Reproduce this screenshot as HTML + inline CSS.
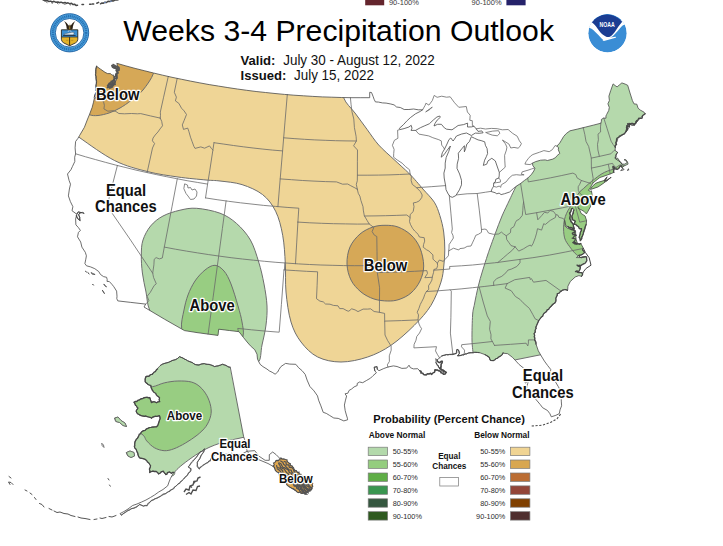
<!DOCTYPE html>
<html><head><meta charset="utf-8"><title>Weeks 3-4 Precipitation Outlook</title>
<style>
html,body{margin:0;padding:0;background:#fff;}
body{width:723px;height:546px;overflow:hidden;font-family:"Liberation Sans",sans-serif;}
svg{display:block;font-family:"Liberation Sans",sans-serif;}
.ln{fill:none;stroke:#696969;stroke-width:0.8;stroke-linejoin:round;stroke-linecap:round}
.ct{stroke:#6e6e6e;stroke-width:1.0;stroke-linejoin:round}
.lab{font-weight:bold;fill:#111;stroke:#fff;stroke-width:2.3px;paint-order:stroke fill;stroke-linejoin:round;text-anchor:middle}
.lg{font-size:7.3px;fill:#2b2b2b}
.sw{stroke:#7a7a7a;stroke-width:.7}
</style></head><body>
<svg width="723" height="546" viewBox="0 0 723 546">
<defs>
<clipPath id="us"><path d="M96.8 66.5L100.6 69.2L105.0 72.3L107.6 73.6L110.5 73.6L112.0 75.2L113.5 74.9L114.4 78.9L113.9 83.1L111.7 86.9L114.6 83.4L116.9 78.8L117.1 74.5L117.2 70.8L117.9 67.3L116.8 63.3L116.8 63.3L125.9 65.9L135.1 68.4L144.3 70.7L153.5 73.0L162.7 75.2L172.0 77.3L181.2 79.2L190.5 81.1L199.9 82.9L209.2 84.6L218.6 86.1L227.9 87.6L237.3 89.0L246.7 90.3L256.1 91.5L265.6 92.5L275.0 93.5L284.4 94.4L293.9 95.2L303.4 95.8L312.8 96.4L322.3 96.9L331.8 97.2L341.3 97.5L350.8 97.7L360.2 97.7L369.7 97.7L369.7 92.3L371.5 92.5L373.0 96.2L374.1 99.3L375.4 101.9L378.6 102.1L382.4 102.9L386.1 103.1L390.8 104.0L394.1 104.9L396.6 107.0L400.3 107.5L404.2 109.5L408.9 109.5L413.6 109.0L418.3 109.8L422.6 109.8L420.3 111.4L415.5 113.8L410.3 117.7L407.1 120.7L403.3 124.8L399.3 128.4L400.3 129.5L404.1 128.6L408.9 127.0L411.2 125.3L412.0 128.2L411.0 130.4L415.6 130.4L420.4 127.7L424.2 126.0L429.3 123.8L433.3 120.0L436.9 117.0L439.7 116.0L440.3 117.3L437.2 120.1L435.0 123.4L434.0 126.0L437.5 124.3L441.4 124.3L444.4 127.9L446.6 129.2L452.0 129.8L455.2 127.6L458.1 125.5L463.6 124.6L467.6 123.1L467.5 127.0L471.6 126.9L473.9 126.2L476.2 128.8L478.0 131.4L481.8 130.9L483.1 132.8L479.2 133.3L475.3 133.1L471.3 135.5L466.5 133.0L461.7 134.0L456.5 136.0L454.0 139.8L453.1 141.0L450.8 138.0L449.0 139.5L447.0 144.0L444.5 149.1L442.3 152.8L441.2 157.2L444.0 154.8L447.1 150.3L450.4 146.0L448.7 151.6L446.2 157.4L445.2 163.1L445.2 168.1L443.9 173.1L444.2 178.0L445.6 185.6L446.0 189.7L448.2 194.0L450.2 196.6L452.4 197.3L455.8 195.6L459.4 189.9L461.5 184.8L461.5 180.3L459.6 174.0L457.0 168.4L457.2 164.1L458.6 158.3L458.3 153.2L461.8 148.8L464.4 145.7L464.3 149.3L464.4 151.8L465.7 148.4L466.9 144.0L469.4 141.6L471.3 136.7L474.4 138.2L478.1 139.9L481.1 140.6L484.7 141.8L485.4 145.3L487.1 148.6L487.6 153.5L486.4 156.5L484.6 160.2L483.3 165.4L486.7 164.2L488.0 160.9L491.8 158.3L495.3 160.9L497.4 167.0L499.3 172.4L499.2 175.9L498.8 178.1L495.8 179.2L495.2 182.1L493.8 183.0L493.4 186.6L492.0 188.9L491.1 191.5L495.1 192.7L496.8 193.8L499.1 193.1L501.1 194.6L504.6 193.7L509.6 192.0L513.3 188.6L516.6 186.0L520.6 183.5L524.5 180.4L527.7 178.2L531.5 174.3L533.8 171.0L534.9 168.3L532.9 165.8L532.4 163.2L535.7 161.6L540.6 160.2L545.2 159.9L547.4 160.5L552.8 159.1L555.5 157.6L557.2 155.5L559.8 153.4L558.3 149.8L558.6 147.6L556.8 146.2L559.7 143.1L561.2 140.6L563.6 136.5L566.3 133.5L570.0 130.8L570.0 130.8L577.8 129.0L585.5 127.1L593.2 125.2L600.9 123.2L601.4 121.2L601.4 119.4L603.6 118.1L606.0 118.2L605.9 116.0L606.7 114.4L608.7 110.6L609.3 107.4L607.9 103.8L609.4 100.5L608.9 96.2L610.7 90.6L613.1 83.9L615.2 85.6L617.1 86.9L619.5 84.8L621.9 82.9L625.2 84.1L627.7 85.3L630.0 93.0L632.4 100.5L634.0 103.9L636.8 104.2L638.1 108.2L640.2 110.0L644.1 112.2L644.8 113.3L641.5 117.1L637.7 120.8L636.2 122.7L634.2 124.7L631.3 123.4L629.3 125.5L628.2 123.6L627.3 127.5L627.6 130.4L624.3 133.5L621.3 135.8L617.8 138.2L617.4 140.5L616.4 142.9L615.3 147.3L615.1 150.5L617.7 152.3L615.9 154.7L615.1 157.8L618.0 158.4L620.1 162.2L622.2 164.2L624.8 164.1L627.1 162.7L625.8 160.6L624.0 159.7L625.7 159.5L627.4 161.6L628.1 164.1L624.7 165.7L621.8 167.6L620.9 165.3L618.5 168.4L617.2 169.5L614.8 168.7L613.3 166.2L613.5 169.7L613.9 172.4L610.2 173.9L607.8 174.8L603.9 176.2L599.9 177.5L597.2 179.6L593.1 182.8L591.6 185.3L590.3 187.7L588.4 190.3L590.3 191.3L591.4 190.8L592.1 194.5L592.2 197.3L592.1 201.6L590.4 206.8L588.1 211.1L586.4 213.9L583.9 211.3L580.2 209.3L577.9 207.7L579.8 210.1L581.1 213.4L585.1 216.0L586.6 220.7L586.2 224.3L585.0 228.8L583.0 235.0L580.6 240.9L579.5 237.1L580.3 232.7L581.7 228.9L579.2 228.7L577.6 225.5L574.0 224.1L575.0 221.1L572.3 219.9L571.9 216.7L572.8 213.0L574.0 209.9L572.5 208.1L570.8 211.3L570.2 213.6L571.0 216.6L571.1 220.5L573.2 224.6L574.5 229.1L568.6 227.4L565.9 225.8L564.6 220.4L565.1 226.2L567.7 228.3L575.6 231.2L575.7 235.1L576.1 239.3L577.4 243.3L573.4 242.7L576.5 244.2L580.9 243.5L581.4 244.5L583.4 248.4L582.4 249.3L584.2 252.5L583.1 254.1L578.3 255.8L576.4 257.6L579.8 257.6L583.6 256.6L586.5 256.9L586.7 260.4L585.1 263.6L580.8 265.2L576.9 265.4L580.0 266.8L579.9 269.0L578.6 271.4L575.2 271.4L578.9 272.4L582.4 272.7L582.6 274.8L581.6 276.4L578.9 275.6L575.2 277.0L570.3 281.5L567.9 286.2L567.7 290.0L564.2 289.5L561.0 291.1L557.6 293.8L555.9 298.4L555.5 301.3L553.4 304.5L550.4 307.1L548.4 309.3L544.3 313.1L542.4 316.2L540.2 318.7L538.7 320.6L536.6 325.6L535.3 330.1L534.5 333.7L534.8 339.9L536.0 344.1L538.3 350.8L541.3 356.0L544.4 361.1L547.7 365.6L550.7 369.4L550.4 373.0L553.0 377.5L555.6 382.1L558.3 386.6L560.1 389.9L561.1 395.4L561.3 401.1L561.6 405.8L560.0 409.9L559.3 413.6L555.9 415.3L551.3 416.8L549.9 413.7L547.5 410.5L542.6 407.7L540.2 404.5L536.4 400.0L533.4 396.9L531.6 393.6L529.3 390.4L526.6 387.2L527.7 383.5L528.5 380.6L525.5 383.1L523.7 379.8L524.5 374.1L524.1 368.5L519.1 364.5L516.0 361.1L512.4 357.3L507.7 353.7L503.4 353.2L501.3 355.9L496.2 358.7L493.4 360.8L490.3 360.5L489.4 357.4L485.2 354.7L479.2 352.5L474.3 352.2L468.4 353.2L463.5 354.6L460.8 355.3L457.6 355.8L459.4 353.3L458.2 349.9L456.7 349.6L456.2 353.6L452.9 354.6L449.3 354.6L446.3 354.5L441.6 356.1L439.6 357.9L437.1 359.9L435.8 358.6L435.9 360.7L439.0 362.3L442.6 361.6L441.1 365.3L440.0 368.1L443.2 370.0L445.8 371.9L445.3 374.1L442.2 373.6L440.8 370.9L437.4 370.4L434.9 369.9L434.2 372.0L431.9 373.8L427.6 373.8L424.6 374.7L421.5 372.7L419.6 370.7L417.7 368.7L413.4 368.9L410.4 367.7L409.0 365.2L406.7 368.1L401.9 368.4L397.0 366.5L393.4 365.9L388.0 367.0L383.8 368.5L379.0 370.7L377.2 369.3L377.1 366.5L374.1 367.3L374.8 370.7L376.4 372.8L373.0 375.7L370.6 378.1L366.3 380.6L362.7 382.7L359.6 382.0L357.2 383.4L357.2 385.5L354.1 386.9L351.6 389.0L349.1 390.4L347.9 393.2L345.0 393.8L346.6 396.0L345.3 400.9L344.4 405.1L345.2 410.7L346.4 415.0L347.4 418.2L347.6 419.8L343.8 420.9L338.2 418.4L333.8 418.0L329.4 415.3L326.3 413.4L323.2 412.3L320.9 405.9L318.6 400.2L317.5 395.9L314.0 390.9L309.9 386.5L307.1 380.1L305.2 374.4L302.1 370.7L298.6 367.7L295.8 364.3L289.8 364.1L285.6 363.4L280.9 366.6L279.1 369.3L277.7 372.0L275.1 374.2L272.2 372.3L269.3 370.9L267.0 369.1L262.9 366.6L260.1 364.3L257.5 359.1L257.0 354.2L254.8 349.8L250.4 345.8L247.1 342.0L243.4 337.4L239.3 332.1L238.4 331.6L229.4 330.5L218.7 329.2L218.0 335.4L208.1 334.1L197.0 332.6L184.5 330.6L164.5 319.2L144.0 307.0L145.7 304.1L130.8 302.4L117.8 300.9L116.8 298.7L117.0 296.2L116.6 291.1L113.8 286.7L111.9 284.3L109.3 281.5L107.0 281.4L107.2 279.6L106.6 277.3L103.5 276.6L100.4 274.4L98.8 271.6L94.8 268.7L90.6 266.9L86.5 265.8L84.9 263.6L85.8 259.2L86.4 255.8L85.3 252.3L81.9 247.1L80.7 242.0L77.5 236.8L78.4 232.5L80.4 230.4L78.5 227.7L75.9 224.8L75.6 219.0L76.6 215.2L77.2 218.0L80.2 220.7L79.5 217.2L78.7 214.1L80.8 212.5L78.2 211.8L76.9 214.3L72.0 210.7L72.9 206.7L70.4 201.6L68.4 195.9L69.4 189.0L70.5 184.2L69.1 180.5L67.5 174.0L70.9 169.8L72.4 166.6L74.8 161.5L74.7 157.2L75.6 153.8L75.1 147.8L75.6 141.5L77.9 138.4L79.7 135.3L84.4 127.3L87.6 119.0L89.6 114.2L92.1 107.6L93.5 102.2L94.4 98.0L98.8 98.6L94.4 97.0L95.2 93.8L96.9 91.4L95.9 90.4L96.1 87.5L96.3 81.7L95.6 73.3L95.8 69.5L96.8 66.5Z"/><path d="M590.5 189.1L592.5 186.1L595.9 183.2L598.9 182.1L603.9 180.6L606.8 177.1L605.5 180.4L604.1 181.2L606.7 180.9L611.0 177.3L605.3 181.9L600.7 185.2L597.9 187.0L591.4 189.2L590.5 189.1Z"/></clipPath>
<clipPath id="ak"><path d="M230.0 367.4L226.0 365.5L222.3 364.5L218.0 366.0L214.6 366.5L209.0 364.5L203.0 363.6L199.0 364.8L195.2 364.5L191.0 362.0L187.5 360.7L183.0 358.0L179.7 356.8L177.5 358.5L175.8 359.7L172.0 360.5L168.1 362.6L164.0 363.5L160.3 365.5L157.5 368.5L155.5 371.3L152.0 374.0L148.7 376.1L146.0 377.0L144.9 379.0L145.8 382.9L148.0 384.5L150.7 385.8L152.0 389.0L153.6 391.6L155.5 393.5L157.4 395.5L159.5 398.0L159.4 401.3L156.5 402.7L154.0 401.5L151.6 402.3L150.5 399.5L149.7 397.4L146.0 397.5L142.9 398.4L138.0 400.5L134.2 402.3L135.5 405.5L138.1 408.1L136.5 410.0L136.1 412.0L139.0 414.5L142.0 415.8L147.0 416.5L151.6 417.8L155.5 416.5L159.4 415.8L160.0 418.5L159.4 420.7L158.5 424.0L156.5 426.5L152.0 427.0L147.8 428.4L145.0 430.5L142.0 431.3L139.5 434.5L137.1 438.1L135.0 442.0L134.2 446.8L135.8 449.0L137.0 451.6L138.0 455.0L139.8 457.9L143.0 458.5L147.0 460.6L149.0 463.5L150.6 466.0L149.5 469.0L149.7 472.3L153.0 471.0L156.0 471.4L158.7 474.0L161.0 472.0L163.2 471.4L165.9 475.0L167.5 473.0L169.5 472.3L171.5 473.2L174.0 472.3L172.0 475.5L170.4 478.6L169.0 482.0L167.7 485.8L163.0 489.5L158.7 492.0L154.5 495.0L150.6 497.4L146.0 500.0L141.6 502.0L137.0 504.0L132.6 505.5L128.0 509.0L124.0 511.5L120.0 513.6L121.0 515.0L126.0 512.0L130.8 509.0L135.0 507.5L139.8 504.6L143.5 506.0L147.0 505.5L151.0 501.0L156.0 498.3L160.0 496.5L165.0 493.8L168.5 491.5L172.2 489.4L176.0 486.0L179.4 483.0L183.5 479.0L187.4 475.0L190.0 471.5L191.0 468.7L188.3 466.9L190.5 464.0L192.8 461.5L196.0 457.5L199.0 453.4L202.0 451.0L204.5 448.9L203.5 452.0L201.8 454.3L199.5 458.5L197.3 462.4L197.5 466.0L199.0 468.7L202.5 466.0L206.3 463.3L210.0 460.6L213.0 456.5L216.0 452.5L219.0 455.0L222.0 453.0L226.0 454.5L230.0 453.5L236.0 455.0L241.0 454.5L247.1 451.3L254.7 450.6L258.9 456.1L265.1 460.3L269.3 460.3L269.3 454.7L272.7 452.0L276.2 454.7L280.3 458.9L286.5 460.3L294.2 469.3L302.5 476.2L312.1 483.1L312.1 489.3L302.5 493.5L294.2 490.0L285.9 483.1L278.2 472.7L273.4 466.5L268.0 463.5L262.0 461.0L256.0 458.5L251.0 455.5L247.1 451.3L245.7 443.0L243.7 436.8Z"/></clipPath>
</defs>
<rect width="723" height="546" fill="#fff"/>

<rect x="365.200" y="-1" width="19" height="6.300" fill="#64252d"/>
<rect x="506.400" y="-1" width="19.200" height="6.300" fill="#25226a"/>
<text x="388.900" y="4.600" font-size="7.500" fill="#3a3a3a">90-100%</text>
<text x="501.600" y="4.600" font-size="7.500" fill="#3a3a3a" text-anchor="end">90-100%</text>
<path d="M43 -.2L45 .9L47 .5L49 1.500L50.500 1.100L52.500 2L54 1.300L56 2.300L58 1.900L59.500 2.700L61 2.100L63 3L65 2.500L66.500 3.400L68 2.800L70 3.800L71.500 3.300L73 4.600L74.500 4.200L76 5.400L77.500 5.200" fill="none" stroke="#484848" stroke-width="1.500" stroke-linecap="round" stroke-linejoin="round"/>
<path d="M46 1.800l1.500 1M51 2.600l2 .8M57 3.100l1.500 .9M63.500 3.800l2 .7M69.500 4.600l1.500 .5" fill="none" stroke="#6a6a6a" stroke-width=".9"/>
<path d="M82 4.600h1.500M89.600 4.300h1.400M92.300 3.900h1.400M96.800 3.200l1.800-.8M100.500 3.800l1.500-.9l1.500 .3l1.500-1l1.500 .3l1.500-1.200l2 .3l1.500-.9l2 .2l1.500-.9l2 .1l1.500-.6" fill="none" stroke="#484848" stroke-width="1.500" stroke-linecap="round" stroke-linejoin="round"/>
<path d="M104 2.700l2-.5M110 1.400l2-.4" stroke="#6c8fc8" stroke-width=".9" fill="none"/>

<!-- CONUS fills -->
<g clip-path="url(#us)">
<path d="M60.0 30.0C85.0 20.8 152.7 51.7 200.0 60.0C247.3 68.3 319.8 73.7 343.8 80.0C367.8 86.3 341.9 92.5 343.8 98.0C345.7 103.5 351.1 107.8 355.0 113.0C358.9 118.2 363.1 124.0 367.0 129.3C370.9 134.6 374.2 140.0 378.7 145.0C383.2 150.0 389.0 154.8 394.0 159.5C399.0 164.2 405.1 169.5 408.8 173.2C412.6 176.9 414.0 178.7 416.5 181.5C419.0 184.3 420.8 186.6 423.8 190.0C426.8 193.4 431.6 198.0 434.3 202.2C437.0 206.4 438.2 210.4 439.8 215.4C441.4 220.4 442.9 226.2 443.7 232.0C444.5 237.8 444.8 244.3 444.8 250.0C444.8 255.7 444.4 260.7 443.8 266.0C443.2 271.3 443.1 275.4 441.0 282.0C438.9 288.6 435.4 298.1 431.0 305.3C426.6 312.5 421.0 318.6 414.3 325.3C407.6 332.0 398.8 340.0 391.0 345.3C383.2 350.6 376.0 354.2 367.7 357.0C359.4 359.8 349.3 362.0 341.0 362.0C332.7 362.0 324.4 360.3 317.7 357.0C311.0 353.7 305.4 347.8 301.0 342.0C296.6 336.2 293.5 330.3 291.0 322.0C288.5 313.7 286.9 301.7 286.0 292.0C285.1 282.3 285.9 273.1 285.3 263.7C284.8 254.2 284.3 244.1 282.7 235.3C281.1 226.6 279.0 218.0 275.6 211.2C272.2 204.4 268.2 199.0 262.6 194.6C257.0 190.2 249.1 186.9 242.0 184.6C234.9 182.3 226.0 181.8 220.0 181.0C214.0 180.2 213.0 180.7 206.0 180.0C199.0 179.3 187.7 178.4 178.0 177.0C168.3 175.6 158.6 174.4 148.0 171.7C137.4 169.0 126.2 166.4 114.7 160.6C103.2 154.8 89.5 144.6 78.7 137.0C67.9 129.4 53.1 132.8 50.0 115.0C46.9 97.2 35.0 39.2 60.0 30.0Z" fill="#EFD596" class="ct"/>
<path d="M80.0 50.0C92.2 42.0 141.2 56.1 153.4 60.0C165.6 63.9 155.1 68.5 153.4 73.5C151.7 78.5 146.7 85.5 143.0 90.0C139.3 94.5 134.8 97.5 131.0 100.5C127.2 103.5 123.7 105.9 120.0 108.0C116.3 110.1 112.7 111.8 109.0 113.0C105.3 114.2 101.3 115.2 98.0 115.5C94.7 115.8 92.0 115.8 89.0 114.5C86.0 113.2 81.5 118.8 80.0 108.0C78.5 97.2 67.8 58.0 80.0 50.0Z" fill="#D6A857" class="ct"/>
<path d="M347.0 264.0C346.8 258.5 347.8 252.0 350.0 247.0C352.2 242.0 356.2 237.3 360.0 234.0C363.8 230.7 368.8 228.4 373.0 227.0C377.2 225.6 380.8 225.3 385.0 225.3C389.2 225.3 393.7 225.4 398.0 227.0C402.3 228.6 407.3 231.5 411.0 235.0C414.7 238.5 417.9 242.8 420.0 248.0C422.1 253.2 423.7 260.5 423.7 266.0C423.7 271.5 422.1 276.5 420.0 281.0C417.9 285.5 414.5 289.9 411.0 293.0C407.5 296.1 402.9 298.2 399.0 299.5C395.1 300.8 391.9 301.1 387.7 301.0C383.5 300.9 378.4 300.5 374.0 299.0C369.6 297.5 364.8 295.2 361.0 292.0C357.2 288.8 353.3 284.7 351.0 280.0C348.7 275.3 347.2 269.5 347.0 264.0Z" fill="#D6A857" class="ct"/>
<path d="M196.7 208.3C190.0 207.8 185.6 208.9 180.0 210.2C174.4 211.5 167.9 213.4 163.0 216.0C158.1 218.6 153.9 222.0 150.6 226.0C147.3 230.0 144.6 235.2 143.0 240.0C141.4 244.8 141.4 249.5 141.3 255.0C141.2 260.5 141.6 266.8 142.4 273.0C143.2 279.2 144.7 285.7 146.0 292.0C147.3 298.3 146.8 303.8 150.0 311.0C153.2 318.2 156.7 328.5 165.0 335.0C173.3 341.5 187.5 347.5 200.0 350.0C212.5 352.5 230.4 348.0 240.0 350.0C249.6 352.0 254.0 362.8 257.7 362.0C261.4 361.2 260.6 351.2 262.0 345.0C263.4 338.8 265.2 331.5 266.0 325.0C266.8 318.5 267.3 312.8 267.0 306.0C266.7 299.2 265.4 291.3 264.0 284.0C262.6 276.7 261.0 269.3 258.7 262.0C256.4 254.7 254.1 246.4 250.4 240.0C246.7 233.6 241.7 228.0 236.6 223.5C231.5 219.0 226.7 215.7 220.0 213.2C213.3 210.7 203.4 208.8 196.7 208.3Z" fill="#B5D9AC" class="ct"/>
<path d="M215.0 265.3C211.8 265.1 208.3 267.4 205.0 270.0C201.7 272.6 197.8 276.8 195.0 281.0C192.2 285.2 189.8 290.2 188.0 295.0C186.2 299.8 185.1 304.4 184.0 310.0C182.9 315.6 180.7 322.9 181.7 328.7C182.7 334.5 181.1 342.3 190.0 345.0C198.9 347.7 226.2 346.5 235.0 345.0C243.8 343.5 241.8 339.8 243.0 336.0C244.2 332.2 242.8 327.0 242.0 322.0C241.2 317.0 239.8 312.3 238.0 306.0C236.2 299.7 233.3 289.8 231.0 284.0C228.7 278.2 226.7 274.1 224.0 271.0C221.3 267.9 218.2 265.5 215.0 265.3Z" fill="#98CD82" class="ct"/>
<path d="M530.0 166.0C527.9 169.1 520.1 180.2 517.3 184.6C514.5 189.0 514.5 189.6 513.2 192.2C511.9 194.8 511.4 196.0 509.5 200.0C507.6 204.0 504.4 210.5 502.0 216.0C499.6 221.5 497.4 227.9 495.4 233.2C493.4 238.5 491.3 244.4 490.0 248.0C488.7 251.6 488.9 251.2 487.6 255.0C486.4 258.8 484.1 265.8 482.5 271.0C480.9 276.2 479.5 281.0 478.2 286.5C476.9 292.0 475.4 299.2 474.5 304.0C473.6 308.8 473.0 309.0 472.6 315.0C472.2 321.0 471.9 333.2 472.0 340.0C472.1 346.8 473.2 353.3 473.5 356.0L500 364L515.6 359.8L540.5 354.8L600 343L700 250L700 40L545 40L540 140Z" fill="#B5D9AC" class="ct"/>
<path d="M590.5 189.1L592.5 186.1L595.9 183.2L598.9 182.1L603.9 180.6L606.8 177.1L605.5 180.4L604.1 181.2L606.7 180.9L611.0 177.3L605.3 181.9L600.7 185.2L597.9 187.0L591.4 189.2L590.5 189.1Z" fill="#98CD82"/>
<path d="M622.0 165.0C619.3 164.2 617.5 166.8 616.0 167.5C614.5 168.2 614.5 168.7 613.1 169.3C611.7 169.9 609.6 170.2 607.6 171.0C605.6 171.8 603.2 172.9 601.0 174.3C598.8 175.7 596.3 177.7 594.3 179.3C592.3 180.9 590.6 182.1 588.8 183.7C587.0 185.3 585.0 187.1 583.3 188.7C581.6 190.2 580.5 190.7 578.8 193.0C577.1 195.3 575.1 199.2 573.0 202.7C570.9 206.1 567.9 210.0 566.4 213.7C564.9 217.4 564.0 220.7 563.7 224.7C563.4 228.7 563.6 234.2 564.6 237.9C565.6 241.6 567.8 243.9 569.7 246.7C571.7 249.4 574.1 252.7 576.3 254.4C578.5 256.1 579.0 257.4 583.0 257.0C587.0 256.6 595.2 257.8 600.0 252.0C604.8 246.2 608.3 232.0 612.0 222.0C615.7 212.0 618.7 200.3 622.0 192.0C625.3 183.7 632.0 176.5 632.0 172.0C632.0 167.5 624.7 165.8 622.0 165.0Z" fill="#98CD82" class="ct"/>
</g>
<!-- lines -->
<path class="ln" d="M422.6 109.8L425.1 105.4L425.9 103.2L428.9 105.1L432.3 100.6L434.2 95.4L437.1 97.3L441.7 96.2L446.5 97.2L450.2 96.8L454.6 102.8L458.8 107.3L466.3 106.5L467.4 112.0L470.2 115.3L469.8 120.3L472.3 120.7L472.4 125.7L473.9 126.2 M426.0 111.7L429.2 109.3L432.3 107.0L430.1 109.3L426.0 111.7 M476.2 128.8L480.5 128.2L485.5 129.0L491.3 128.4L497.2 128.7L502.3 129.8L508.1 129.5L512.7 133.4L517.2 136.2L519.4 140.8L521.4 143.6L519.9 146.5L518.1 148.2L514.0 147.4L510.8 148.0L508.9 144.0L502.4 140.0L505.4 143.8L506.9 147.1L506.4 150.1L504.6 155.3L504.8 160.9L505.2 167.2L503.1 169.0L499.5 172.3 M486.0 132.5L492.7 131.1L498.5 130.7L499.9 133.3L497.3 135.8L492.2 135.1L488.1 133.6L486.0 132.5 M498.8 178.1L500.4 180.0L500.4 182.1L496.8 182.6L493.8 183.0 M494.0 186.5L496.4 187.1L499.4 186.0L500.6 187.4L501.3 184.8L506.1 181.9L509.1 178.0L512.3 175.3L516.3 174.7L520.0 175.1L524.1 174.8L521.4 174.3L522.1 171.9L528.0 170.2L531.4 169.0L534.5 168.0 M532.4 163.2L530.1 164.6L524.9 164.1L526.0 161.7L528.1 158.8L530.6 156.0L532.9 154.5L539.6 152.2L543.9 150.6L549.2 151.7L552.4 149.6L555.1 145.5L556.8 146.2"/>
<path class="ln" d="M100.0 99.7L103.5 101.5L104.4 105.4L103.9 108.9L107.9 111.2L113.1 110.7L115.9 111.5L118.9 113.5L124.4 113.8L131.5 113.5L137.4 113.8L140.7 113.6L140.7 113.6L150.4 115.9L160.2 118.1 M168.3 76.4L163.6 97.2L160.3 112.1L160.5 115.3L160.2 118.1 M160.2 118.1L161.7 121.3L162.5 125.8L160.1 128.9L157.9 132.0L155.2 135.0L153.0 138.1L152.4 140.8L154.6 143.5L152.5 148.0L150.1 159.0L147.1 172.6 M177.2 78.4L174.3 92.3L176.4 97.1L175.4 100.9L178.8 103.3L181.5 108.2L184.1 110.9L186.5 114.5L184.2 120.3L182.3 124.9L183.5 129.4L187.7 128.1L188.8 131.2L190.5 137.2L192.2 141.8L193.9 146.4L195.0 148.4L200.8 146.9L204.6 148.2L209.5 145.9L211.6 148.7L212.9 150.0 M214.0 142.7L223.8 144.1L233.5 145.5L243.3 146.8L253.1 148.0L262.9 149.1L272.7 150.1L282.5 150.9 M287.3 94.6L284.9 122.9L282.6 150.9L280.2 178.9L277.9 206.7 M214.0 142.7L212.9 150.0L209.8 170.3L207.6 184.1L205.5 197.9 M75.6 153.8L85.6 156.8L95.6 159.6L105.7 162.4L115.8 165.1L125.9 167.6L136.0 170.1L146.2 172.4L156.4 174.6L166.6 176.7L176.8 178.7L187.1 180.7L197.3 182.4L207.6 184.1 M205.5 197.9L217.1 199.7L228.7 201.3L240.4 202.8L252.0 204.1L263.7 205.4L275.4 206.4L287.1 207.4L298.8 208.2L297.9 222.1 M117.4 165.5L112.2 185.7L107.1 205.9L130.6 240.1L152.7 273.2 M177.3 178.8L172.1 206.2L164.3 247.1L162.3 258.0L159.3 258.9L156.1 257.6L154.2 259.3L153.9 264.9L152.7 273.2L153.6 277.6L156.3 283.8L154.2 285.5L150.2 292.5L147.2 296.2L148.9 300.7L145.7 304.1 M164.3 247.1L175.4 249.2L186.5 251.1L197.6 252.9L208.7 254.6L219.9 256.2L231.1 257.7L242.3 259.0L253.5 260.2L264.7 261.3L275.9 262.3L287.1 263.1L298.4 263.9L309.6 264.5L320.9 265.0L332.1 265.3L343.4 265.6L354.6 265.7L365.9 265.7L377.2 265.6 M226.1 200.9L222.4 228.5L218.7 256.0L213.1 297.3L208.1 334.1 M297.9 222.1L296.7 242.9L295.5 263.7 M297.9 222.1L309.8 222.8L321.7 223.3L333.6 223.7L345.5 223.9L357.4 224.1L369.2 224.0 M280.2 178.9L291.5 179.7L302.7 180.5L314.0 181.1L325.3 181.6L336.5 181.9L342.6 184.2L347.7 184.0L350.7 185.7L354.8 187.8L357.3 189.2 M283.7 137.8L294.1 138.6L304.4 139.3L314.8 139.9L325.2 140.3L335.6 140.7L346.0 140.9L356.4 141.0 M350.4 97.7L351.1 104.8L352.0 111.9L353.8 119.0L354.4 127.5L356.1 136.4L356.4 141.0L353.6 145.8L357.5 150.0L357.4 161.2L357.4 175.2L357.3 180.8L356.3 184.3L357.3 189.2 M357.4 175.2L367.9 175.2L378.5 175.1L389.0 174.9L399.5 174.5L410.1 174.0 M357.3 189.2L358.3 193.4L359.9 196.2L360.9 200.4L363.0 206.7L363.3 210.1L364.3 215.7L367.2 220.6L369.2 224.0L372.0 226.1L373.8 227.5L372.1 231.6L374.3 235.1L376.8 236.5L377.0 251.7L377.2 265.6L377.3 272.6L379.6 287.8L379.4 312.3 M364.4 216.0L375.0 215.9L385.6 215.7L396.2 215.4L406.8 215.0L410.1 217.6 M377.3 272.6L389.7 272.3L402.0 271.9L414.4 271.3L426.8 270.6L427.5 273.4L424.8 277.7L432.2 277.3 M284.9 263.0L284.4 269.9 M284.0 269.9L295.2 270.6L306.4 271.3L317.6 271.8L317.1 285.7L316.5 298.7L319.9 301.1L323.3 301.9L325.5 304.0L330.0 304.2L333.4 305.4L338.0 305.8L339.7 308.6L343.1 308.6L347.1 310.8L348.8 311.2L351.7 308.8L355.1 309.9L358.0 311.6L363.1 309.1L367.7 309.1L370.6 308.8L374.1 311.5L379.4 312.3L384.6 313.4L384.7 320.8L385.0 335.0L387.6 340.5L391.1 346.0L391.2 350.2L389.3 355.8L389.4 361.4L387.3 364.9L388.0 367.0 M284.0 269.9L281.4 304.5L279.2 332.2L279.2 332.2L265.3 331.1L251.5 329.8L237.7 328.4L238.4 331.6 M384.7 321.1L401.4 320.6L418.0 319.9 M400.1 129.5L397.6 130.2L397.9 138.3L394.4 140.3L392.4 145.3L394.1 149.4L393.7 153.7L393.6 157.2L397.1 159.9L402.2 163.2L405.4 166.5L409.6 169.8L410.1 174.0L411.4 176.7L411.1 180.3L412.3 184.4L416.6 187.7L420.4 191.6L422.2 195.0L421.8 197.4L419.4 200.8L416.4 202.3L413.3 202.9L414.0 206.7L413.2 211.6L410.2 214.5L410.1 217.6L409.5 221.5L410.4 224.3L412.5 228.3L414.7 231.0L418.1 234.3L419.4 237.0L424.2 237.7L424.7 241.1L423.6 244.4L423.2 247.2L426.6 249.8L428.9 251.0L432.9 254.9L433.0 259.1L435.0 261.1L437.4 263.0L437.6 265.7L436.7 268.6L433.9 269.5L433.6 272.3L432.2 277.3L431.9 280.1L430.4 282.9L428.5 285.8L428.8 289.3L426.4 291.5L424.8 294.4L423.6 298.0L421.8 301.5L420.3 304.4L418.8 308.7L417.2 312.2L418.5 314.9L418.0 319.9L419.0 324.0L420.3 326.7L421.6 328.7L419.5 333.0L416.7 336.6L416.0 340.2L414.1 344.4L413.9 347.9L413.9 347.9L436.5 346.7L435.5 350.9L437.3 354.3L439.6 357.9 M415.6 130.4L418.9 134.1L428.7 135.9L432.8 137.7L438.8 139.7L441.3 140.9L441.7 145.1L443.3 147.1L444.5 149.1 M416.7 187.7L431.2 186.7L445.6 185.6 M449.3 195.6L450.9 213.1L452.3 229.0L451.6 232.6L452.9 235.2L453.4 238.0L451.0 241.7L449.1 244.6L449.0 248.1L448.7 250.9 M523.6 201.9L523.1 205.4L522.8 210.3L522.3 215.4L519.1 219.4L516.6 220.5L515.3 222.8L514.0 226.5L510.8 228.7L510.5 232.6L506.3 235.8L503.3 233.7L501.5 232.1L498.5 234.0L493.4 234.3L488.6 233.1L486.5 229.6L484.9 229.1L481.5 229.5L481.5 232.3L478.4 234.3L475.8 235.3L474.1 239.4L472.8 242.1L471.0 246.0L467.2 246.4L464.1 248.1L459.8 248.6L458.8 250.0L453.5 248.2L448.7 250.9L448.4 255.8L444.8 259.6L443.3 261.4L439.4 260.0L437.4 263.0 M434.0 270.2L449.8 269.0L449.6 266.5L461.4 265.8L472.5 265.0L483.5 263.9L494.5 262.8L498.0 262.4L511.0 260.6L520.0 259.4L532.9 257.7L549.3 255.1L565.7 252.0L583.4 248.4 M520.0 259.4L520.0 262.8L516.8 266.5L511.6 269.0L507.8 270.2L505.9 272.8L501.8 276.3L496.5 278.7L493.6 281.9L493.7 285.5 M426.4 291.5L438.0 290.8L449.5 289.9L461.1 288.9L472.7 287.7L484.2 286.5L495.7 285.1L507.2 283.6 M507.2 283.6L514.8 279.7L529.8 277.4L530.2 279.5L531.4 278.6L533.5 282.2L546.0 280.4L561.0 291.1 M507.2 283.6L505.1 288.1L511.2 290.7L515.4 296.5L519.9 299.3L523.1 302.8L529.4 308.4L532.7 314.3L535.1 318.8L538.7 320.6 M479.2 287.2L483.2 302.0L487.3 315.9L490.3 321.4L489.6 329.2L491.0 334.7L490.9 338.9L492.4 341.5L494.5 345.4 M494.5 345.4L510.7 344.3L526.1 343.2L527.8 345.9L528.4 343.1L528.4 339.9L534.8 339.9 M492.4 341.5L477.0 343.2L461.7 344.7L461.5 346.8L464.5 350.1L464.4 352.9L463.5 354.6 M450.1 289.8L451.3 291.1L450.9 317.7L450.4 333.1L452.9 354.6 M477.2 193.5L479.3 210.1L481.5 229.5 M456.6 194.9L467.1 193.8L477.2 193.5L485.6 192.2L491.0 191.4 M520.6 183.5L523.6 201.9L525.7 214.5L536.6 212.7L552.0 209.8L562.5 207.8L575.1 205.1L577.0 212.1L579.7 222.2L586.6 220.7 M575.1 205.1L576.7 203.2L578.7 203.2 M527.7 178.2L528.3 181.9L528.3 181.9L539.5 179.9L550.7 177.8L561.8 175.5L572.9 173.1L575.8 174.6L577.1 177.9L581.4 180.5L579.6 184.5L578.2 186.7L578.3 190.5L580.7 194.2L584.2 196.3L581.2 200.5L578.7 203.2L578.2 207.6 M581.4 180.5L590.6 183.4 M593.1 182.8L592.0 181.6L593.2 178.5L591.4 168.1L591.3 158.1L588.7 146.5L586.0 141.4L584.8 134.5L583.2 127.7 M600.9 123.2L600.5 126.9L600.6 132.0L598.0 134.1L598.4 139.8L597.5 144.3L597.9 150.0L599.4 156.4 M591.3 158.1L599.4 156.4L610.9 153.8L612.6 152.0L614.2 150.4L615.1 150.3 M615.3 147.3L613.2 144.6L611.1 141.2L607.2 128.8L603.8 118.1 M591.4 168.1L601.3 166.0L608.3 164.2L612.6 163.4L613.3 164.8L615.5 167.1L616.9 169.6 M608.4 164.5L610.2 173.9 M555.9 214.7L555.4 217.5L550.2 220.4L545.3 224.5L543.7 223.7L541.6 230.1L537.5 228.7L536.6 233.1L535.2 237.9L532.9 243.9L531.3 246.3L530.3 245.0L527.2 246.5L523.4 248.9L518.7 251.1L515.1 246.8 M515.1 246.8L511.0 245.6L509.0 242.7L506.7 239.5L506.3 235.8 M515.1 246.8L511.8 250.7L507.6 254.1L503.8 257.4L498.0 262.4 M536.6 212.7L537.8 219.8L541.7 215.6L544.4 212.3L547.8 213.0L550.0 210.5L553.4 211.3L555.9 214.7L557.9 215.1L558.9 217.3L563.3 218.5L564.6 220.4"/>
<path class="ln" d="M96.8 66.5L100.6 69.2L105.0 72.3L107.6 73.6L110.5 73.6L112.0 75.2L113.5 74.9L114.4 78.9L113.9 83.1L111.7 86.9L114.6 83.4L116.9 78.8L117.1 74.5L117.2 70.8L117.9 67.3L116.8 63.3L116.8 63.3L125.9 65.9L135.1 68.4L144.3 70.7L153.5 73.0L162.7 75.2L172.0 77.3L181.2 79.2L190.5 81.1L199.9 82.9L209.2 84.6L218.6 86.1L227.9 87.6L237.3 89.0L246.7 90.3L256.1 91.5L265.6 92.5L275.0 93.5L284.4 94.4L293.9 95.2L303.4 95.8L312.8 96.4L322.3 96.9L331.8 97.2L341.3 97.5L350.8 97.7L360.2 97.7L369.7 97.7L369.7 92.3L371.5 92.5L373.0 96.2L374.1 99.3L375.4 101.9L378.6 102.1L382.4 102.9L386.1 103.1L390.8 104.0L394.1 104.9L396.6 107.0L400.3 107.5L404.2 109.5L408.9 109.5L413.6 109.0L418.3 109.8L422.6 109.8L420.3 111.4L415.5 113.8L410.3 117.7L407.1 120.7L403.3 124.8L399.3 128.4L400.3 129.5L404.1 128.6L408.9 127.0L411.2 125.3L412.0 128.2L411.0 130.4L415.6 130.4L420.4 127.7L424.2 126.0L429.3 123.8L433.3 120.0L436.9 117.0L439.7 116.0L440.3 117.3L437.2 120.1L435.0 123.4L434.0 126.0L437.5 124.3L441.4 124.3L444.4 127.9L446.6 129.2L452.0 129.8L455.2 127.6L458.1 125.5L463.6 124.6L467.6 123.1L467.5 127.0L471.6 126.9L473.9 126.2L476.2 128.8L478.0 131.4L481.8 130.9L483.1 132.8L479.2 133.3L475.3 133.1L471.3 135.5L466.5 133.0L461.7 134.0L456.5 136.0L454.0 139.8L453.1 141.0L450.8 138.0L449.0 139.5L447.0 144.0L444.5 149.1L442.3 152.8L441.2 157.2L444.0 154.8L447.1 150.3L450.4 146.0L448.7 151.6L446.2 157.4L445.2 163.1L445.2 168.1L443.9 173.1L444.2 178.0L445.6 185.6L446.0 189.7L448.2 194.0L450.2 196.6L452.4 197.3L455.8 195.6L459.4 189.9L461.5 184.8L461.5 180.3L459.6 174.0L457.0 168.4L457.2 164.1L458.6 158.3L458.3 153.2L461.8 148.8L464.4 145.7L464.3 149.3L464.4 151.8L465.7 148.4L466.9 144.0L469.4 141.6L471.3 136.7L474.4 138.2L478.1 139.9L481.1 140.6L484.7 141.8L485.4 145.3L487.1 148.6L487.6 153.5L486.4 156.5L484.6 160.2L483.3 165.4L486.7 164.2L488.0 160.9L491.8 158.3L495.3 160.9L497.4 167.0L499.3 172.4L499.2 175.9L498.8 178.1L495.8 179.2L495.2 182.1L493.8 183.0L493.4 186.6L492.0 188.9L491.1 191.5L495.1 192.7L496.8 193.8L499.1 193.1L501.1 194.6L504.6 193.7L509.6 192.0L513.3 188.6L516.6 186.0L520.6 183.5L524.5 180.4L527.7 178.2L531.5 174.3L533.8 171.0L534.9 168.3L532.9 165.8L532.4 163.2L535.7 161.6L540.6 160.2L545.2 159.9L547.4 160.5L552.8 159.1L555.5 157.6L557.2 155.5L559.8 153.4L558.3 149.8L558.6 147.6L556.8 146.2L559.7 143.1L561.2 140.6L563.6 136.5L566.3 133.5L570.0 130.8L570.0 130.8L577.8 129.0L585.5 127.1L593.2 125.2L600.9 123.2L601.4 121.2L601.4 119.4L603.6 118.1L606.0 118.2L605.9 116.0L606.7 114.4L608.7 110.6L609.3 107.4L607.9 103.8L609.4 100.5L608.9 96.2L610.7 90.6L613.1 83.9L615.2 85.6L617.1 86.9L619.5 84.8L621.9 82.9L625.2 84.1L627.7 85.3L630.0 93.0L632.4 100.5L634.0 103.9L636.8 104.2L638.1 108.2L640.2 110.0L644.1 112.2L644.8 113.3L641.5 117.1L637.7 120.8L636.2 122.7L634.2 124.7L631.3 123.4L629.3 125.5L628.2 123.6L627.3 127.5L627.6 130.4L624.3 133.5L621.3 135.8L617.8 138.2L617.4 140.5L616.4 142.9L615.3 147.3L615.1 150.5L617.7 152.3L615.9 154.7L615.1 157.8L618.0 158.4L620.1 162.2L622.2 164.2L624.8 164.1L627.1 162.7L625.8 160.6L624.0 159.7L625.7 159.5L627.4 161.6L628.1 164.1L624.7 165.7L621.8 167.6L620.9 165.3L618.5 168.4L617.2 169.5L614.8 168.7L613.3 166.2L613.5 169.7L613.9 172.4L610.2 173.9L607.8 174.8L603.9 176.2L599.9 177.5L597.2 179.6L593.1 182.8L591.6 185.3L590.3 187.7L588.4 190.3L590.3 191.3L591.4 190.8L592.1 194.5L592.2 197.3L592.1 201.6L590.4 206.8L588.1 211.1L586.4 213.9L583.9 211.3L580.2 209.3L577.9 207.7L579.8 210.1L581.1 213.4L585.1 216.0L586.6 220.7L586.2 224.3L585.0 228.8L583.0 235.0L580.6 240.9L579.5 237.1L580.3 232.7L581.7 228.9L579.2 228.7L577.6 225.5L574.0 224.1L575.0 221.1L572.3 219.9L571.9 216.7L572.8 213.0L574.0 209.9L572.5 208.1L570.8 211.3L570.2 213.6L571.0 216.6L571.1 220.5L573.2 224.6L574.5 229.1L568.6 227.4L565.9 225.8L564.6 220.4L565.1 226.2L567.7 228.3L575.6 231.2L575.7 235.1L576.1 239.3L577.4 243.3L573.4 242.7L576.5 244.2L580.9 243.5L581.4 244.5L583.4 248.4L582.4 249.3L584.2 252.5L583.1 254.1L578.3 255.8L576.4 257.6L579.8 257.6L583.6 256.6L586.5 256.9L586.7 260.4L585.1 263.6L580.8 265.2L576.9 265.4L580.0 266.8L579.9 269.0L578.6 271.4L575.2 271.4L578.9 272.4L582.4 272.7L582.6 274.8L581.6 276.4L578.9 275.6L575.2 277.0L570.3 281.5L567.9 286.2L567.7 290.0L564.2 289.5L561.0 291.1L557.6 293.8L555.9 298.4L555.5 301.3L553.4 304.5L550.4 307.1L548.4 309.3L544.3 313.1L542.4 316.2L540.2 318.7L538.7 320.6L536.6 325.6L535.3 330.1L534.5 333.7L534.8 339.9L536.0 344.1L538.3 350.8L541.3 356.0L544.4 361.1L547.7 365.6L550.7 369.4L550.4 373.0L553.0 377.5L555.6 382.1L558.3 386.6L560.1 389.9L561.1 395.4L561.3 401.1L561.6 405.8L560.0 409.9L559.3 413.6L555.9 415.3L551.3 416.8L549.9 413.7L547.5 410.5L542.6 407.7L540.2 404.5L536.4 400.0L533.4 396.9L531.6 393.6L529.3 390.4L526.6 387.2L527.7 383.5L528.5 380.6L525.5 383.1L523.7 379.8L524.5 374.1L524.1 368.5L519.1 364.5L516.0 361.1L512.4 357.3L507.7 353.7L503.4 353.2L501.3 355.9L496.2 358.7L493.4 360.8L490.3 360.5L489.4 357.4L485.2 354.7L479.2 352.5L474.3 352.2L468.4 353.2L463.5 354.6L460.8 355.3L457.6 355.8L459.4 353.3L458.2 349.9L456.7 349.6L456.2 353.6L452.9 354.6L449.3 354.6L446.3 354.5L441.6 356.1L439.6 357.9L437.1 359.9L435.8 358.6L435.9 360.7L439.0 362.3L442.6 361.6L441.1 365.3L440.0 368.1L443.2 370.0L445.8 371.9L445.3 374.1L442.2 373.6L440.8 370.9L437.4 370.4L434.9 369.9L434.2 372.0L431.9 373.8L427.6 373.8L424.6 374.7L421.5 372.7L419.6 370.7L417.7 368.7L413.4 368.9L410.4 367.7L409.0 365.2L406.7 368.1L401.9 368.4L397.0 366.5L393.4 365.9L388.0 367.0L383.8 368.5L379.0 370.7L377.2 369.3L377.1 366.5L374.1 367.3L374.8 370.7L376.4 372.8L373.0 375.7L370.6 378.1L366.3 380.6L362.7 382.7L359.6 382.0L357.2 383.4L357.2 385.5L354.1 386.9L351.6 389.0L349.1 390.4L347.9 393.2L345.0 393.8L346.6 396.0L345.3 400.9L344.4 405.1L345.2 410.7L346.4 415.0L347.4 418.2L347.6 419.8L343.8 420.9L338.2 418.4L333.8 418.0L329.4 415.3L326.3 413.4L323.2 412.3L320.9 405.9L318.6 400.2L317.5 395.9L314.0 390.9L309.9 386.5L307.1 380.1L305.2 374.4L302.1 370.7L298.6 367.7L295.8 364.3L289.8 364.1L285.6 363.4L280.9 366.6L279.1 369.3L277.7 372.0L275.1 374.2L272.2 372.3L269.3 370.9L267.0 369.1L262.9 366.6L260.1 364.3L257.5 359.1L257.0 354.2L254.8 349.8L250.4 345.8L247.1 342.0L243.4 337.4L239.3 332.1L238.4 331.6L229.4 330.5L218.7 329.2L218.0 335.4L208.1 334.1L197.0 332.6L184.5 330.6L164.5 319.2L144.0 307.0L145.7 304.1L130.8 302.4L117.8 300.9L116.8 298.7L117.0 296.2L116.6 291.1L113.8 286.7L111.9 284.3L109.3 281.5L107.0 281.4L107.2 279.6L106.6 277.3L103.5 276.6L100.4 274.4L98.8 271.6L94.8 268.7L90.6 266.9L86.5 265.8L84.9 263.6L85.8 259.2L86.4 255.8L85.3 252.3L81.9 247.1L80.7 242.0L77.5 236.8L78.4 232.5L80.4 230.4L78.5 227.7L75.9 224.8L75.6 219.0L76.6 215.2L77.2 218.0L80.2 220.7L79.5 217.2L78.7 214.1L80.8 212.5L78.2 211.8L76.9 214.3L72.0 210.7L72.9 206.7L70.4 201.6L68.4 195.9L69.4 189.0L70.5 184.2L69.1 180.5L67.5 174.0L70.9 169.8L72.4 166.6L74.8 161.5L74.7 157.2L75.6 153.8L75.1 147.8L75.6 141.5L77.9 138.4L79.7 135.3L84.4 127.3L87.6 119.0L89.6 114.2L92.1 107.6L93.5 102.2L94.4 98.0L98.8 98.6L94.4 97.0L95.2 93.8L96.9 91.4L95.9 90.4L96.1 87.5L96.3 81.7L95.6 73.3L95.8 69.5L96.8 66.5Z" style="stroke:#4a4a4a"/>
<path class="ln" d="M590.5 189.1L592.5 186.1L595.9 183.2L598.9 182.1L603.9 180.6L606.8 177.1L605.5 180.4L604.1 181.2L606.7 180.9L611.0 177.3L605.3 181.9L600.7 185.2L597.9 187.0L591.4 189.2L590.5 189.1Z M622.4 168.8L624.1 169.1L623.7 169.9L620.7 170.7L622.4 168.8Z M628.4 169.3L629.1 169.8L627.1 170.4L628.4 169.3Z M85.6 271.4L86.6 272.1L85.6 271.4Z M87.9 272.7L89.3 274.0L87.9 272.7Z M91.4 272.8L95.1 274.5L92.2 274.2L91.4 272.8Z M92.7 284.3L93.6 285.3L92.7 284.3Z M104.0 284.3L106.6 287.0L104.8 285.8L104.0 284.3Z M102.5 290.4L104.5 293.7L102.5 290.4Z" style="stroke:#4a4a4a"/>
<path class="ln" d="M185.0 184.0L187.5 185.0L188.0 188.0L190.5 187.5L192.0 190.0L195.0 189.0L197.0 192.0L196.5 196.0L194.0 199.0L190.5 199.5L188.0 196.0L186.0 193.5L184.0 189.0Z"/>
<path class="ln" d="M583.4 248.4L585.4 252.5L589.2 257.8L591.0 265.2L586.1 268.4L583.4 271.8L581.6 276.4" style="stroke:#444;stroke-width:1"/>
<path d="M645.2 113.7L643.9 114.8L642.6 115.5L642.1 118.0L641.0 118.3L638.9 118.1L638.2 119.3L637.6 120.4L635.9 122.6L635.1 123.8L634.6 124.5L632.9 123.5L631.8 123.5L629.7 123.9L629.6 125.0L627.7 123.7L628.1 125.1L627.6 126.5L626.4 127.4L628.2 128.7L626.9 129.6L626.4 131.1L625.4 132.4L624.4 133.8L622.5 134.6L620.8 135.6L619.4 136.1L618.9 137.0L616.9 138.3L616.5 139.6L616.5 141.1L615.7 142.8L616.6 144.3L614.9 145.9L615.3 147.3" fill="none" stroke="#474747" stroke-width="1.3" stroke-linejoin="round" stroke-linecap="round"/><path d="M636.7 120.5L635.8 121.7L635.9 123.3L633.7 124.1L634.4 125.2L633.0 125.0L631.7 125.1L630.2 124.2L629.0 123.3L628.8 124.4L629.5 126.4L629.1 127.3L626.7 125.6L626.7 127.5L626.6 128.6L626.3 130.0L625.8 131.6" fill="none" stroke="#474747" stroke-width="1.2" stroke-linejoin="round" stroke-linecap="round"/><path d="M617.5 152.4L616.7 153.8L616.1 155.2L616.2 156.6L614.9 158.2L615.9 159.0L617.5 159.9L618.8 161.2L620.3 161.7L622.2 164.2" fill="none" stroke="#474747" stroke-width="1.0" stroke-linejoin="round" stroke-linecap="round"/><path d="M622.2 167.3L621.4 166.6L621.4 165.8L620.0 166.5L619.3 167.6L618.6 168.8L617.3 169.2L615.9 169.0L614.4 168.9L614.5 167.3L612.9 166.3L612.9 167.9L614.1 169.8L613.3 171.1L613.9 172.4" fill="none" stroke="#474747" stroke-width="1.2" stroke-linejoin="round" stroke-linecap="round"/><path d="M607.0 177.0L606.1 178.5L605.5 180.4L604.0 180.8L605.3 180.6L606.2 180.7L607.9 179.8L608.5 178.9L610.2 178.1L611.0 177.3" fill="none" stroke="#474747" stroke-width="1.0" stroke-linejoin="round" stroke-linecap="round"/><path d="M112.0 65.8L113.0 66.3L113.1 66.9L114.9 67.8L115.9 66.7L117.1 66.8L118.7 67.3L119.0 68.1L119.0 70.1L117.4 70.2L116.6 70.2L117.5 71.6L118.0 73.0L116.8 73.7L116.3 74.5L116.6 75.8L116.7 76.6L116.9 78.0L114.9 78.1L114.6 80.6L113.3 80.7L111.9 81.7L113.4 83.3L112.3 84.1L111.3 84.6L109.6 84.7L108.6 85.2L108.8 86.6L107.5 87.5L109.1 87.0L110.1 87.7L110.4 86.9L111.1 86.0L112.2 85.8L113.5 84.7L115.1 84.3L114.5 83.2L115.1 81.8L115.0 81.0" fill="none" stroke="#555" stroke-width="1.8" stroke-linejoin="round" stroke-linecap="round"/><path d="M113.0 64.4L114.4 65.1L115.3 65.6L114.5 67.5L115.9 68.1L117.1 68.7L116.1 70.1L116.3 70.9L117.6 72.0L116.4 73.2L115.8 74.1L115.6 75.2L115.8 76.2L114.1 77.0L114.3 77.8L114.0 79.1L113.2 80.4L112.6 81.4L111.1 81.1L110.9 82.8L110.0 83.5" fill="none" stroke="#555" stroke-width="1.4" stroke-linejoin="round" stroke-linecap="round"/><path d="M112.1 65.6L113.3 66.0L113.9 66.5L115.5 66.6L116.3 66.3L117.4 66.5L118.0 67.8L117.4 68.5L116.5 68.8L115.2 68.1L114.0 68.0L113.2 67.4L112.5 67.0" fill="none" stroke="#555" stroke-width="1.7" stroke-linejoin="round" stroke-linecap="round"/><path d="M110.0 83.0L109.0 83.5L108.4 84.9L107.5 85.4L108.0 86.4L108.6 87.2L109.6 87.9L110.4 87.6L111.3 87.6L112.2 87.1L112.9 85.8L113.2 85.4L112.8 84.3L112.2 83.4L111.2 83.1L110.0 83.0" fill="none" stroke="#555" stroke-width="1.5" stroke-linejoin="round" stroke-linecap="round"/><path d="M96.5 66.2L96.0 67.8L95.8 69.7L95.8 71.4L95.8 73.5L95.4 74.8L96.1 76.6L96.0 78.5L96.3 80.0L96.6 81.5L96.5 83.2L96.1 84.6L95.8 85.9L96.1 87.5" fill="none" stroke="#4a4a4a" stroke-width="1.0" stroke-linejoin="round" stroke-linecap="round"/><path d="M94.2 97.3L94.7 95.7L95.5 93.9L96.0 92.9L97.0 91.5L95.7 90.1L96.5 89.2L96.1 87.5" fill="none" stroke="#474747" stroke-width="1.0" stroke-linejoin="round" stroke-linecap="round"/><path d="M572.6 208.2L571.4 208.9L571.1 210.4L570.9 211.7L569.6 212.7L569.6 213.5L570.3 215.3L570.0 216.5L569.6 218.3L570.0 219.4L570.5 220.2L570.9 221.8L572.2 223.0L573.3 224.4L573.4 226.3L573.8 227.8L574.2 229.1L573.1 228.8L571.7 227.5L570.5 227.3L569.3 227.6L567.9 226.4L569.6 228.1L570.7 228.9L572.0 229.8L573.5 229.1L574.1 231.0L575.2 230.6L574.7 232.5L573.2 232.5L572.2 233.2L573.2 234.8L574.6 234.1L576.3 235.3L574.7 235.6L573.8 236.8L573.1 238.2L572.2 238.2L573.4 238.4L574.6 238.7L575.5 238.9L574.9 240.6L574.1 241.4L572.7 242.6L574.3 241.9L575.0 242.3L576.1 243.3L577.6 243.6L576.0 243.6L574.6 243.2L573.4 242.5L574.7 244.0L576.7 244.2L577.7 243.5L579.7 244.3L580.9 243.5" fill="none" stroke="#474747" stroke-width="1.25" stroke-linejoin="round" stroke-linecap="round"/><path d="M574.0 210.0L573.3 211.2L573.4 213.1L572.7 214.5L572.0 215.5L571.9 216.8L572.5 218.3L572.6 219.7L574.0 220.1L575.5 221.3L574.7 222.6L573.6 224.4L575.6 224.2L576.2 224.9L577.2 226.0L578.8 226.8L579.1 228.2L580.2 228.9L581.5 228.5L581.5 230.5L580.9 231.4L580.2 232.7L580.2 233.9L579.5 235.9L579.0 237.4L580.0 238.3L580.1 239.8L580.2 240.8L581.0 239.6L581.9 238.6L581.6 236.9L582.4 236.1L582.7 234.9L583.3 233.5L583.3 232.3L583.9 231.1L584.0 230.0L584.8 228.7L584.9 227.2L585.5 225.9L586.2 224.3" fill="none" stroke="#474747" stroke-width="1.15" stroke-linejoin="round" stroke-linecap="round"/><path d="M582.7 249.2L582.9 250.6L583.9 251.1L584.7 252.6L583.2 253.8L582.1 254.4L580.8 255.2L579.3 255.0L578.7 255.4L579.9 257.2L581.4 257.6L582.6 257.3L583.7 257.1L585.3 256.5L586.6 257.1L586.6 258.6L586.9 260.5L586.2 261.9L584.8 263.3L583.4 263.7L582.1 264.7L580.8 265.7L579.7 265.3L578.2 265.7L577.0 265.1L578.3 266.2L580.5 266.8L580.2 269.0L579.6 270.3L578.6 271.9L577.0 270.8L575.4 271.7L576.4 271.1L577.7 272.5L578.6 272.6L580.9 272.5L581.9 272.9L582.6 274.8" fill="none" stroke="#474747" stroke-width="1.15" stroke-linejoin="round" stroke-linecap="round"/><path d="M567.5 290.4L565.7 289.5L564.5 289.7L562.4 290.1L561.1 291.3L559.8 292.2L559.2 293.2L557.2 293.6L557.3 295.6L556.4 296.6L555.8 298.5L556.1 300.0L555.9 301.4L555.0 303.0L553.1 304.0L552.1 304.9L551.1 306.3L550.4 306.8L549.2 308.2L548.8 309.4L547.0 309.9L546.6 311.5L545.4 312.5L544.4 312.9L543.2 314.3L542.8 316.2L541.3 317.1L540.3 318.5L538.7 320.7L538.2 321.8L537.7 323.1L537.1 324.1L536.6 325.5L535.7 327.3L536.3 328.5L535.1 330.0L535.4 332.2L533.9 333.7L534.7 335.3L534.1 336.7L534.9 338.1L534.6 339.9L535.5 341.1L536.1 342.4L536.0 344.1" fill="none" stroke="#474747" stroke-width="1.15" stroke-linejoin="round" stroke-linecap="round"/><path d="M503.2 352.6L502.3 354.2L501.4 355.4L499.8 356.3L498.3 357.1L497.7 358.2L496.2 358.4L495.1 359.8L493.2 360.5L492.1 360.4L490.7 360.3L489.6 359.0L489.5 357.6L488.1 356.5L486.4 355.4L485.2 354.7" fill="none" stroke="#474747" stroke-width="1.05" stroke-linejoin="round" stroke-linecap="round"/><path d="M479.2 352.7L477.6 352.5L475.9 352.4L474.3 352.5L473.1 352.9L471.6 352.8L470.0 352.7L468.1 353.0L466.6 354.0L465.0 353.9L463.6 355.1L462.2 354.8L461.0 355.5L459.1 355.8L457.5 355.8L458.8 354.4L459.3 353.6L459.2 351.3L458.2 349.6L457.0 349.4L456.7 350.9L456.8 352.4L456.4 353.3L454.5 353.7L452.9 354.1L451.2 354.3L449.3 354.4L448.0 355.0L446.5 354.7L444.8 355.2L443.2 355.4L441.6 356.1" fill="none" stroke="#474747" stroke-width="1.0" stroke-linejoin="round" stroke-linecap="round"/><path d="M437.2 360.1L437.4 361.5L439.2 362.7L440.1 362.4L441.2 361.1L442.3 361.3L442.1 362.7L441.0 364.1L441.1 365.6L441.2 367.1L439.6 368.5L441.0 369.1L441.6 369.9L443.4 370.2L444.3 371.1L446.4 372.3L445.0 374.1L443.5 374.4L442.6 373.1L440.9 372.7L440.6 371.6L439.4 370.9L438.4 370.7L437.7 369.9L435.9 370.0L434.9 369.8L434.9 371.2L434.5 372.4L433.0 372.9L431.8 374.4L430.6 373.2L428.8 374.1L427.7 373.7L426.2 375.0L424.5 374.9L423.3 374.3L422.8 373.1L420.8 373.0L421.2 371.5L419.6 370.7" fill="none" stroke="#474747" stroke-width="1.4" stroke-linejoin="round" stroke-linecap="round"/><path d="M435.8 362.0L436.2 362.9L436.8 364.1L437.4 365.1L438.2 365.8L438.6 367.1L439.7 368.1L440.4 369.2L441.5 369.1L442.0 370.8L443.5 371.5L444.0 372.8" fill="none" stroke="#474747" stroke-width="1.2" stroke-linejoin="round" stroke-linecap="round"/><path d="M560.6 414.2L557 418.8L550.5 422.4L542.3 425.2L530.4 426.1" fill="none" stroke="#4a4a4a" stroke-width="1.1" stroke-dasharray="2.2 1.6"/><path d="M377.3 369.1L377.2 367.9L376.8 366.7L375.9 367.0L374.3 367.1L374.5 368.8L374.8 370.7" fill="none" stroke="#474747" stroke-width="0.9" stroke-linejoin="round" stroke-linecap="round"/><path d="M76.3 215.4L76.7 216.9L77.4 217.9L78.2 219.3L79.1 219.7L80.1 220.5L79.6 219.1L79.9 217.1L78.9 215.8L78.8 214.4L79.8 213.2L80.8 212.8L82.5 212.4L84.2 213.4L82.4 212.9L81.0 212.5L79.8 212.4L78.5 212.1L77.4 212.8L76.9 214.3" fill="none" stroke="#474747" stroke-width="1.0" stroke-linejoin="round" stroke-linecap="round"/>

<!-- Alaska -->
<g clip-path="url(#ak)">
<path d="M100.0 340.0C123.3 318.3 233.0 324.7 260.0 340.0C287.0 355.3 264.7 415.8 262.0 432.0C259.3 448.2 249.7 435.7 244.0 437.2C238.3 438.7 233.7 439.2 228.0 440.8C222.3 442.4 215.4 444.6 210.0 447.0C204.6 449.4 200.0 452.3 195.5 455.2C191.0 458.1 186.3 461.6 183.0 464.2C179.7 466.8 177.3 469.0 175.5 471.0C173.7 473.0 176.2 474.5 172.0 476.0C167.8 477.5 158.7 481.0 150.0 480.0C141.3 479.0 128.3 493.3 120.0 470.0C111.7 446.7 76.7 361.7 100.0 340.0Z" fill="#B5D9AC" class="ct"/>
<path d="M152.2 386.8C157.1 385.9 159.9 383.9 164.2 382.9C168.5 381.9 173.3 381.1 177.8 381.0C182.3 380.9 187.6 381.0 191.3 382.0C195.0 383.0 197.4 384.6 200.0 386.8C202.6 389.1 205.0 392.3 206.8 395.5C208.6 398.7 210.0 402.8 210.7 406.2C211.3 409.6 211.5 412.4 210.7 415.8C209.9 419.2 208.2 423.3 205.9 426.5C203.6 429.7 200.5 432.4 197.1 435.2C193.7 437.9 189.4 440.7 185.5 443.0C181.6 445.3 177.5 447.5 173.9 448.8C170.3 450.1 167.4 450.9 164.2 450.7C161.0 450.5 157.4 449.4 154.5 447.8C151.6 446.2 148.9 443.3 146.8 441.0C144.7 438.7 145.6 436.9 142.0 434.2C138.4 431.5 128.7 430.7 125.0 425.0C121.3 419.3 118.3 406.2 120.0 400.0C121.7 393.8 129.6 390.2 135.0 388.0C140.4 385.8 147.3 387.7 152.2 386.8Z" fill="#98CD82" class="ct"/>
</g>
<path class="ln" d="M230.0 367.4L226.0 365.5L222.3 364.5L218.0 366.0L214.6 366.5L209.0 364.5L203.0 363.6L199.0 364.8L195.2 364.5L191.0 362.0L187.5 360.7L183.0 358.0L179.7 356.8L177.5 358.5L175.8 359.7L172.0 360.5L168.1 362.6L164.0 363.5L160.3 365.5L157.5 368.5L155.5 371.3L152.0 374.0L148.7 376.1L146.0 377.0L144.9 379.0L145.8 382.9L148.0 384.5L150.7 385.8L152.0 389.0L153.6 391.6L155.5 393.5L157.4 395.5L159.5 398.0L159.4 401.3L156.5 402.7L154.0 401.5L151.6 402.3L150.5 399.5L149.7 397.4L146.0 397.5L142.9 398.4L138.0 400.5L134.2 402.3L135.5 405.5L138.1 408.1L136.5 410.0L136.1 412.0L139.0 414.5L142.0 415.8L147.0 416.5L151.6 417.8L155.5 416.5L159.4 415.8L160.0 418.5L159.4 420.7L158.5 424.0L156.5 426.5L152.0 427.0L147.8 428.4L145.0 430.5L142.0 431.3L139.5 434.5L137.1 438.1L135.0 442.0L134.2 446.8L135.8 449.0L137.0 451.6L138.0 455.0L139.8 457.9L143.0 458.5L147.0 460.6L149.0 463.5L150.6 466.0L149.5 469.0L149.7 472.3L153.0 471.0L156.0 471.4L158.7 474.0L161.0 472.0L163.2 471.4L165.9 475.0L167.5 473.0L169.5 472.3L171.5 473.2L174.0 472.3L172.0 475.5L170.4 478.6L169.0 482.0L167.7 485.8L163.0 489.5L158.7 492.0L154.5 495.0L150.6 497.4L146.0 500.0L141.6 502.0L137.0 504.0L132.6 505.5L128.0 509.0L124.0 511.5L120.0 513.6L121.0 515.0L126.0 512.0L130.8 509.0L135.0 507.5L139.8 504.6L143.5 506.0L147.0 505.5L151.0 501.0L156.0 498.3L160.0 496.5L165.0 493.8L168.5 491.5L172.2 489.4L176.0 486.0L179.4 483.0L183.5 479.0L187.4 475.0L190.0 471.5L191.0 468.7L188.3 466.9L190.5 464.0L192.8 461.5L196.0 457.5L199.0 453.4L202.0 451.0L204.5 448.9L203.5 452.0L201.8 454.3L199.5 458.5L197.3 462.4L197.5 466.0L199.0 468.7L202.5 466.0L206.3 463.3L210.0 460.6L213.0 456.5L216.0 452.5L219.0 455.0L222.0 453.0L226.0 454.5L230.0 453.5L236.0 455.0L241.0 454.5L247.1 451.3L254.7 450.6L258.9 456.1L265.1 460.3L269.3 460.3L269.3 454.7L272.7 452.0L276.2 454.7L280.3 458.9L286.5 460.3L294.2 469.3L302.5 476.2L312.1 483.1L312.1 489.3L302.5 493.5L294.2 490.0L285.9 483.1L278.2 472.7L273.4 466.5L268.0 463.5L262.0 461.0L256.0 458.5L251.0 455.5L247.1 451.3L245.7 443.0L243.7 436.8Z" style="stroke:#4a4a4a"/>
<path d="M157.7 368.8L156.4 369.8L155.5 371.6L154.1 372.0L153.3 373.0L152.3 374.4L151.1 374.5L149.8 375.1L149.0 376.3L147.1 376.1L145.6 376.9L145.3 378.8L145.2 380.1L145.0 381.6L146.2 382.7L147.3 383.5L148.0 384.5L149.4 385.0L150.9 385.4L151.0 387.4L151.7 389.0L152.5 390.7L153.5 391.9L154.6 392.7L155.8 393.2L156.1 394.6L157.2 396.0L158.5 396.6L159.6 397.9L159.0 399.6L159.8 401.6L157.6 401.9L156.5 402.7L155.1 402.0L154.0 401.8L152.7 401.9L151.4 402.6L150.8 400.7L150.3 399.5L149.9 397.6L148.3 397.9L147.3 397.2L145.8 397.4L144.1 397.6L142.7 398.6L141.4 398.5L140.3 399.1L139.4 400.0L138.0 400.1L136.8 401.6L135.4 401.4L133.8 402.2L135.0 403.7L135.4 405.3L136.6 406.0L137.2 407.7L137.9 407.9L137.3 409.4L136.4 410.1L136.3 411.5L137.0 413.2L137.8 414.0L139.1 414.5L140.3 415.4L141.9 415.8L142.9 416.2L144.7 416.4L145.9 415.9L147.2 416.7L148.4 417.0L150.4 417.4L151.5 418.3L152.5 417.1L154.0 416.5L155.7 416.1L156.6 416.5L158.0 416.1L159.4 415.6L160.0 416.9L160.1 418.7L159.4 420.4L158.7 422.5L158.2 424.0L157.9 425.5L156.4 427.0L154.9 427.0L153.4 427.1L152.3 427.1L150.7 427.5L149.2 427.5L147.8 428.4L146.3 428.9L145.0 430.4L143.2 430.7L142.1 431.5L141.1 432.4L140.6 433.9L139.2 434.2L138.7 436.0L138.4 436.9L137.4 438.5L136.2 439.2L135.7 440.4L134.9 441.9L134.8 443.1L134.7 444.3L134.9 445.6L134.5 446.8L134.8 448.2L135.8 448.8L136.5 450.2L137.0 451.9L137.9 453.2L138.1 455.1L138.7 456.8L139.9 458.1L141.6 458.4L143.0 458.7L144.7 459.1L145.8 459.8L146.9 461.0L147.4 462.1L149.1 463.3L149.8 464.5L150.6 465.7L150.1 467.8L149.3 469.0L150.0 470.9L149.6 472.6L151.4 471.5L152.8 471.2L154.3 471.6L156.3 471.4L157.2 472.1L158.1 473.0L158.5 473.9L160.1 473.3L161.1 471.9L163.3 471.1L164.1 472.4L165.4 473.8L165.7 474.6L167.1 474.2L167.3 472.5L169.7 471.9L171.4 473.4L172.6 472.3L174.0 472.3" fill="none" stroke="#474747" stroke-width="1.2" stroke-linejoin="round" stroke-linecap="round"/><path d="M230.4 367.2L228.2 367.0L227.4 366.5L226.1 365.4L224.4 364.7L222.3 364.1L220.6 365.0L219.1 365.4L218.2 365.8L216.2 366.0L214.7 366.7L213.2 365.7L211.8 365.1L210.5 364.6L209.0 364.3L207.2 364.4L205.8 364.2L204.5 363.5L202.9 363.9L201.1 364.0L199.0 365.2L196.8 365.0L195.2 364.5L193.7 363.7L192.7 362.6L190.9 362.1L189.1 361.5L187.6 360.7L186.1 359.7L184.1 359.0L183.0 358.1L181.1 357.4L179.5 356.5L177.7 358.4L175.9 359.3L174.0 360.0L172.1 360.6L171.1 361.3L169.2 362.0L168.2 362.4L166.3 362.8L163.9 363.7L162.6 363.9L161.4 364.6L160.3 365.5" fill="none" stroke="#474747" stroke-width="0.9" stroke-linejoin="round" stroke-linecap="round"/><path d="M121.5 515.4L122.3 514.8L123.5 513.6L124.6 512.9L125.7 511.7L127.0 510.9L127.8 510.1L129.7 510.0L130.9 509.0L131.9 508.4L133.8 508.4L135.2 507.7L136.5 507.4L137.5 506.4L138.7 505.4L139.7 504.3L141.2 505.1L142.2 505.6L143.3 506.2L145.1 505.3L147.2 505.9L147.4 504.2L148.4 502.9L150.2 502.0L150.8 500.8L152.0 500.1L153.7 500.0L154.4 498.8L156.3 498.6L157.4 498.2L158.9 497.1L160.3 496.5L161.3 495.3L162.2 494.6L163.6 493.8L165.4 493.9L166.6 493.2L167.6 492.2L168.6 491.8L170.0 491.4L170.5 489.9L172.0 489.5L174.1 488.5L174.3 487.0L175.9 486.2L177.3 484.9L178.0 483.8L179.8 483.4L180.4 481.7L181.9 481.1L182.6 480.2L183.8 479.0L184.5 478.2L185.2 476.8L186.7 476.2L187.6 474.9L187.9 473.4L189.0 472.5L190.4 471.8L191.0 470.6L191.0 468.6L189.4 468.1L188.2 466.9L189.5 465.9L190.5 463.8L191.4 462.2L192.5 461.2L193.5 459.9L194.7 459.0L196.2 457.7L197.2 456.3L198.1 454.8L199.0 453.0L200.3 451.6L202.3 451.4L203.6 450.2L204.4 448.7L204.3 450.4L203.6 452.4L202.9 453.2L201.8 454.5L201.0 455.7L200.6 457.1L200.1 458.6L199.0 460.1L198.1 460.9L197.3 462.2L197.3 464.2L197.0 466.1L197.7 467.5L199.5 469.2L199.9 467.2L201.1 466.7L202.4 465.5L203.6 464.5L205.0 464.0L205.9 463.2L208.0 462.8L208.7 461.0L210.4 461.1L210.5 458.8L211.7 457.5L213.0 456.4L214.2 455.1L215.4 454.1L215.8 452.5L217.1 452.8L217.5 454.4L218.9 455.0L220.6 454.1L221.8 453.5L223.5 453.4L224.8 454.4L226.2 454.2L227.8 454.8L228.5 453.3L230.1 453.9L231.6 453.2L233.1 454.6L234.3 454.6L235.7 454.9L237.6 454.6L239.4 455.1L241.0 454.5" fill="none" stroke="#555" stroke-width="0.85" stroke-linejoin="round" stroke-linecap="round"/><path d="M281.0 458.0L282.5 459.1L283.7 458.9L285.4 459.5L287.1 460.0L287.0 461.3L288.1 462.3L289.4 463.4L290.3 463.6L290.1 465.8L292.0 465.9L292.9 467.3L293.6 467.8L294.1 469.4L294.9 470.9L296.3 470.7L297.2 472.5L299.0 472.2L299.0 474.2L300.9 474.2L301.1 475.5L302.2 476.3L304.0 476.2L304.8 477.5L305.7 478.8L306.5 480.1L307.5 480.9L308.9 480.4L309.9 481.8L310.7 482.4L312.7 483.4L311.9 484.8L312.8 486.1L311.4 487.8L311.9 488.4L310.8 490.0L309.6 490.5L308.7 490.7L307.3 492.2L306.5 492.5L304.9 492.8L303.5 492.4L302.3 493.4L301.0 493.3L299.7 492.1L298.2 492.6L296.6 491.7L295.5 490.2L294.6 489.7L293.2 488.6L292.2 488.7L291.0 487.7L289.9 487.2L288.4 486.1L287.4 485.4L286.7 484.5L286.4 482.9L284.6 482.3L284.5 480.6L283.9 479.3L282.4 478.3L281.5 477.3L280.8 476.4L279.3 475.3L279.3 473.4L278.4 472.5L276.8 471.9L276.1 471.1L275.3 470.1L274.8 468.8L274.5 467.3L273.0 466.2L274.3 464.8L273.5 463.0L275.0 462.4L276.0 460.6L277.1 460.4L278.7 460.6L279.4 459.0L281.0 458.9Z" fill="#E0A850" stroke="#4d4d4d" stroke-width="1.1"/><path d="M284.2 461.5L286.0 462.0L286.3 464.9L288.8 464.9L289.3 467.4L292.1 467.7L293.3 469.1L294.0 471.1L294.9 472.8L296.8 473.7L297.8 475.6L300.1 476.5L300.8 478.1L302.6 479.8L304.8 480.3L306.1 481.3L307.7 482.6L308.8 484.5" fill="none" stroke="#525252" stroke-width="1.25" stroke-linejoin="round" stroke-linecap="round"/><path d="M280.7 461.0L282.8 462.3L283.6 464.2L285.0 465.4L286.3 467.1L287.7 468.5L289.0 469.9L291.2 470.1L291.9 472.3L293.7 473.8L296.0 474.3L297.6 475.7L297.6 478.0L299.5 479.4L301.7 479.8L303.3 481.3L304.0 483.5L306.1 483.6L306.9 486.0L309.0 486.8L309.3 488.9L311.4 489.8" fill="none" stroke="#525252" stroke-width="1.25" stroke-linejoin="round" stroke-linecap="round"/><path d="M278.9 462.8L280.9 463.7L282.0 465.9L282.9 467.3L285.0 467.9L287.0 469.2L288.5 470.1L289.3 472.5L291.4 473.3L291.8 475.3L293.5 476.9L295.4 477.4L296.1 479.7L298.6 479.7L299.3 482.4L300.9 483.7L302.8 484.8L304.3 485.8L305.2 487.8L306.6 489.2L308.0 490.1L309.9 491.3" fill="none" stroke="#525252" stroke-width="1.25" stroke-linejoin="round" stroke-linecap="round"/><path d="M278.6 463.7L279.8 465.1L280.7 467.4L282.3 468.3L284.3 469.0L285.5 471.1L286.7 472.7L288.0 473.6L289.2 475.8L291.0 476.2L292.4 477.9L293.6 479.7L295.4 480.7L296.8 481.6L299.1 482.9L299.2 485.1L300.7 486.7L303.4 487.0L304.2 489.1L305.2 490.3L307.0 491.8L308.5 492.9" fill="none" stroke="#525252" stroke-width="1.25" stroke-linejoin="round" stroke-linecap="round"/><path d="M276.6 465.7L277.2 467.6L279.5 468.0L281.1 469.2L282.7 470.8L283.1 473.5L285.3 473.8L286.3 475.6L288.8 476.3L289.2 478.1L291.4 478.7L291.7 481.3L294.0 482.6L296.0 482.8L297.1 485.0L298.6 485.7L299.9 487.1L301.1 489.4L302.6 490.1L304.0 492.1L305.3 493.2L307.1 494.4" fill="none" stroke="#525252" stroke-width="1.25" stroke-linejoin="round" stroke-linecap="round"/><path d="M277.1 468.8L278.8 469.8L280.1 471.0L281.3 472.7L283.0 474.4L284.8 475.3L286.2 476.8L286.6 478.8L288.1 480.6L290.5 480.7L291.3 483.2L293.2 483.5L294.2 486.0L296.2 486.0L296.8 488.4L299.0 489.5L299.9 491.3L301.6 492.2" fill="none" stroke="#525252" stroke-width="1.25" stroke-linejoin="round" stroke-linecap="round"/><path d="M297.8 475.7L299.1 477.2L301.0 478.6L302.6 479.3L303.3 481.2L305.7 482.3L306.0 484.4L308.6 485.1L309.8 486.5L311.0 488.0" fill="none" stroke="#555" stroke-width="1.5" stroke-linejoin="round" stroke-linecap="round"/><path d="M296.7 477.1L298.3 478.5L299.6 479.8L300.2 481.9L301.8 483.4L303.7 484.3L305.0 485.6L306.0 487.4L307.7 489.0L309.5 489.6" fill="none" stroke="#555" stroke-width="1.5" stroke-linejoin="round" stroke-linecap="round"/><path d="M294.2 479.3L296.2 480.5L297.3 482.1L298.7 483.3L300.2 484.9L302.5 485.3L303.4 487.0L305.1 488.1L307.0 489.1L308.1 491.1" fill="none" stroke="#555" stroke-width="1.5" stroke-linejoin="round" stroke-linecap="round"/><path d="M293.6 480.7L295.1 481.8L296.0 483.7L297.7 484.9L298.8 486.1L301.4 487.0L301.9 488.8L303.3 490.1L305.3 491.1L306.7 492.7" fill="none" stroke="#555" stroke-width="1.5" stroke-linejoin="round" stroke-linecap="round"/><path d="M291.5 482.3L293.5 483.4L294.5 485.2L296.6 486.0L298.2 487.4L299.1 489.3L301.6 489.8L302.3 491.6L303.7 492.9L305.2 494.2" fill="none" stroke="#555" stroke-width="1.5" stroke-linejoin="round" stroke-linecap="round"/><path class="ln" style="stroke:#555" d="M114.8 418.0L118.0 417.0L121.0 420.5L125.0 423.0L126.5 426.5L123.0 425.5L119.5 422.5L116.0 421.5Z M126.5 452.5L130.0 451.0L134.0 452.5L134.5 456.0L131.0 457.5L128.0 456.0Z M102.0 443.5L103.5 445.0L104.0 447.5L102.5 446.0Z"/><path d="M114.8 418.0L118.0 417.0L121.0 420.5L125.0 423.0L126.5 426.5L123.0 425.5L119.5 422.5L116.0 421.5ZM126.5 452.5L130.0 451.0L134.0 452.5L134.5 456.0L131.0 457.5L128.0 456.0Z" fill="#B5D9AC" stroke="#555" stroke-width=".7"/><path d="M184 492l2-3l3 1l1-4l3-1l1-3.500l3-.5l1-3l2.500-1M186 494.500l3-2l2 1.500l2-4l3 .5l1.500-4l2.500-.5M190 486l2 1.500M193.500 481l1.500 2" fill="none" stroke="#4d4d4d" stroke-width="1.400"/><path d="M116 515.500l-4 1.500l-3-.5M106 517.500l-4 1l-2-.5M97 519l-3 .5M90 519.500l-5-1l-4-.5l-3-1M75 516.500l-4-1l-3-1.500l-4-.5l-4-1.500l-3 .5l-3-1.500M52 510l-3-1.500M44 507l-2-2.500l-2.500-1M36 499.500l-1.500-2M32 494.500l-2-1.500M27 491l-2-1M13 484.500l-2-2l-2.500-.5l1.500 2.500M9 476.500l2 1.500M108 478.500l1 1.500M109.500 485l.8 1.200" fill="none" stroke="#555" stroke-width="1" stroke-linecap="round"/>
<!-- legend -->
<rect x="362" y="427" width="180" height="100" fill="#fff"/><text x="373.3" y="423" font-size="11.1" font-weight="bold" fill="#111">Probability (Percent Chance)</text><text x="368.7" y="437.7" font-size="8.35" font-weight="bold" fill="#111">Above Normal</text><text x="474.2" y="437.7" font-size="8.3" font-weight="bold" fill="#111">Below Normal</text><rect class="sw" x="368.2" y="447.2" width="19.4" height="8.4" fill="#B3D9AB"/><text class="lg" x="392.7" y="454.1">50-55%</text><rect class="sw" x="510.5" y="447.2" width="19.4" height="8.4" fill="#F0D493"/><text class="lg" x="505.3" y="454.1" text-anchor="end">50-55%</text><rect class="sw" x="368.2" y="460.0" width="19.4" height="8.4" fill="#94CD7E"/><text class="lg" x="392.7" y="466.9">55-60%</text><rect class="sw" x="510.5" y="460.0" width="19.4" height="8.4" fill="#D8A750"/><text class="lg" x="505.3" y="466.9" text-anchor="end">55-60%</text><rect class="sw" x="368.2" y="473.0" width="19.4" height="8.4" fill="#5FAE46"/><text class="lg" x="392.7" y="479.9">60-70%</text><rect class="sw" x="510.5" y="473.0" width="19.4" height="8.4" fill="#BB6D33"/><text class="lg" x="505.3" y="479.9" text-anchor="end">60-70%</text><rect class="sw" x="368.2" y="485.9" width="19.4" height="8.4" fill="#3A9650"/><text class="lg" x="392.7" y="492.8">70-80%</text><rect class="sw" x="510.5" y="485.9" width="19.4" height="8.4" fill="#934639"/><text class="lg" x="505.3" y="492.8" text-anchor="end">70-80%</text><rect class="sw" x="368.2" y="498.8" width="19.4" height="8.4" fill="#35573F"/><text class="lg" x="392.7" y="505.7">80-90%</text><rect class="sw" x="510.5" y="498.8" width="19.4" height="8.4" fill="#804000"/><text class="lg" x="505.3" y="505.7" text-anchor="end">80-90%</text><rect class="sw" x="368.2" y="511.7" width="19.4" height="8.4" fill="#2E5A1F"/><text class="lg" x="392.7" y="518.6">90-100%</text><rect class="sw" x="510.5" y="511.7" width="19.4" height="8.4" fill="#4F2F2F"/><text class="lg" x="505.3" y="518.6" text-anchor="end">90-100%</text><text x="449.3" y="459" font-size="8.2" font-weight="bold" fill="#111" text-anchor="middle">Equal</text><text x="449.3" y="468.6" font-size="8.2" font-weight="bold" fill="#111" text-anchor="middle">Chances</text><rect x="439.8" y="477.4" width="18.8" height="8.6" fill="#fff" stroke="#777" stroke-width=".7"/>
<!-- labels -->
<text class="lab" transform="translate(117.7,100) scale(1,1.065)" font-size="14.8">Below</text><text class="lab" transform="translate(126,195.5) scale(1,1.065)" font-size="14.8">Equal</text><text class="lab" transform="translate(125.8,212.4) scale(1,1.065)" font-size="14.8">Chances</text><text class="lab" transform="translate(212.2,310.7) scale(1,1.065)" font-size="14.8">Above</text><text class="lab" transform="translate(385.5,271.3) scale(1,1.065)" font-size="14.8">Below</text><text class="lab" transform="translate(583.2,205.3) scale(1,1.065)" font-size="14.8">Above</text><text class="lab" transform="translate(542.9,381.3) scale(1,1.065)" font-size="14.8">Equal</text><text class="lab" transform="translate(542.9,398.3) scale(1,1.065)" font-size="14.8">Chances</text><text class="lab" transform="translate(184.5,419.7) scale(1,1.065)" font-size="11.6">Above</text><text class="lab" transform="translate(235.0,447.6) scale(1,1.065)" font-size="11.4">Equal</text><text class="lab" transform="translate(234.7,460.9) scale(1,1.065)" font-size="11.4">Chances</text><text class="lab" transform="translate(295.9,482.6) scale(1,1.065)" font-size="11.5">Below</text>
<!-- title -->
<text transform="translate(123.3,41.2) scale(1,1.005)" font-size="30.2" fill="#000">Weeks 3-4 Precipitation Outlook</text>
<text transform="translate(0,64.6) scale(1,1.035)" font-size="13.1" fill="#111"><tspan x="240.5" font-weight="bold">Valid:</tspan><tspan x="283.2" font-size="13.45">July 30 - August 12, 2022</tspan></text>
<text transform="translate(0,79.8) scale(1,1.035)" font-size="13.1" fill="#111"><tspan x="240.5" font-weight="bold">Issued:</tspan><tspan x="294" font-size="13.45">July 15, 2022</tspan></text>

<g transform="translate(69.6,32.8)">
<circle r="19.1" fill="#4a9fdc" stroke="#1b5fa0" stroke-width=".9"/>
<circle r="16.600" fill="none" stroke="#2268aa" stroke-width="2.300" stroke-dasharray="1.200 .7" opacity=".85"/>
<circle r="14.300" fill="#fff" stroke="#1b5fa0" stroke-width=".9"/>
<path d="M-8.200 -3h16.400v9.500q0 2.500-2.500 3.700l-5.700 2.800l-5.700-2.800q-2.500-1.200-2.500-3.700z" fill="#e4b32b"/>
<path d="M-8.200 -3h16.400v7.200h-16.400z" fill="#3b8fd2"/>
<path d="M-5.800 1.300l8.200-1.900l2.200 .3l-.6 2.300h-8.600z" fill="#e9eef2" stroke="#26323d" stroke-width=".35"/>
<path d="M-6.500 2.700h12.500" stroke="#1d2b3a" stroke-width=".8"/>
<path d="M-1.500 -.8l.5-1.600h2l.5 1.500" fill="none" stroke="#dfe6ec" stroke-width=".6"/>
<path d="M-8.200 4.200h16.400" stroke="#222" stroke-width=".7"/>
<path d="M0 4.300v8.500" stroke="#2a2416" stroke-width=".9"/>
<path d="M-3.500 7.500h2.200M1.500 7.500h2.200" stroke="#b98d1c" stroke-width=".8"/>
<path d="M-8.200 -3h16.400v9.500q0 2.500-2.500 3.700l-5.700 2.800l-5.700-2.800q-2.500-1.200-2.500-3.700z" fill="none" stroke="#1c1c1c" stroke-width=".8"/>
<path d="M-5.500 -11.700C-3.700 -10.700 -2 -8.900 -.7 -6.800L-.6 -3.500L-2.900 -4C-2.900 -6.800 -3.900 -9.400 -5.500 -11.700Z" fill="#2a2014"/>
<path d="M5.700 -11.700C3.900 -10.700 2.200 -8.900 .9 -6.800L.8 -3.500L3.100 -4C3.100 -6.800 4.100 -9.400 5.700 -11.700Z" fill="#2a2014"/>
<ellipse cx=".1" cy="-5.600" rx="1.500" ry="2.700" fill="#3a2c1a"/>
<circle cx=".1" cy="-8.300" r="1" fill="#e8e0c8"/>
<path d="M-2.300 -3.500h4.800" stroke="#3a2c1a" stroke-width=".9"/>
<path d="M.1 -6.500v3" stroke="#c9a63a" stroke-width=".7"/>
</g>
<g transform="translate(607.5,33.2)">
<clipPath id="nc"><circle r="19.250"/></clipPath>
<g clip-path="url(#nc)">
<circle r="19.250" fill="#3a8dd5"/>
<path d="M-21 -13L21 -13L21 -9.500L17.500 -8.700C15.500 -8 14.500 -7.200 13.800 -6.400L10.200 -2.300L6.500 1.800C5.500 2.800 4.700 3.400 3.800 3.900L2.500 4.300L8.200 3.600L8.550 4.050L8.200 4.500L1.900 6.400L-3.600 7.800L-5.200 7.600L-4 7.100L-5.900 5.200L-9.100 1.800L-12.700 -1.800C-14.500 -3.500 -15.500 -4.100 -16.400 -4.600L-18.700 -5.500L-21 -6Z" fill="#fff"/>
<path d="M-15.700 -11A19.250 19.250 0 0 1 14.700 -11.400L11.100 -6.900L8.300 -2.700C7.300 -1.200 6.500 -.1 5.600 .9C4.600 2 3.800 2.800 2.800 3.200C2 3.700 1.300 3.900 .5 3.900C-.3 3.900 -1 3.800 -1.700 3.400C-2.900 2.800 -3.900 2.300 -4.900 1.400C-6.100 .2 -7.100 -.9 -8.200 -2.300L-11.800 -7.300C-13 -8.800 -14.200 -10 -15.700 -11Z" fill="#1b3d92"/>
</g>
<text x="-.35" y="-6.350" font-size="6.300" font-weight="bold" fill="#fff" text-anchor="middle" textLength="15.100" lengthAdjust="spacingAndGlyphs">NOAA</text>
</g>
</svg>
</body></html>
